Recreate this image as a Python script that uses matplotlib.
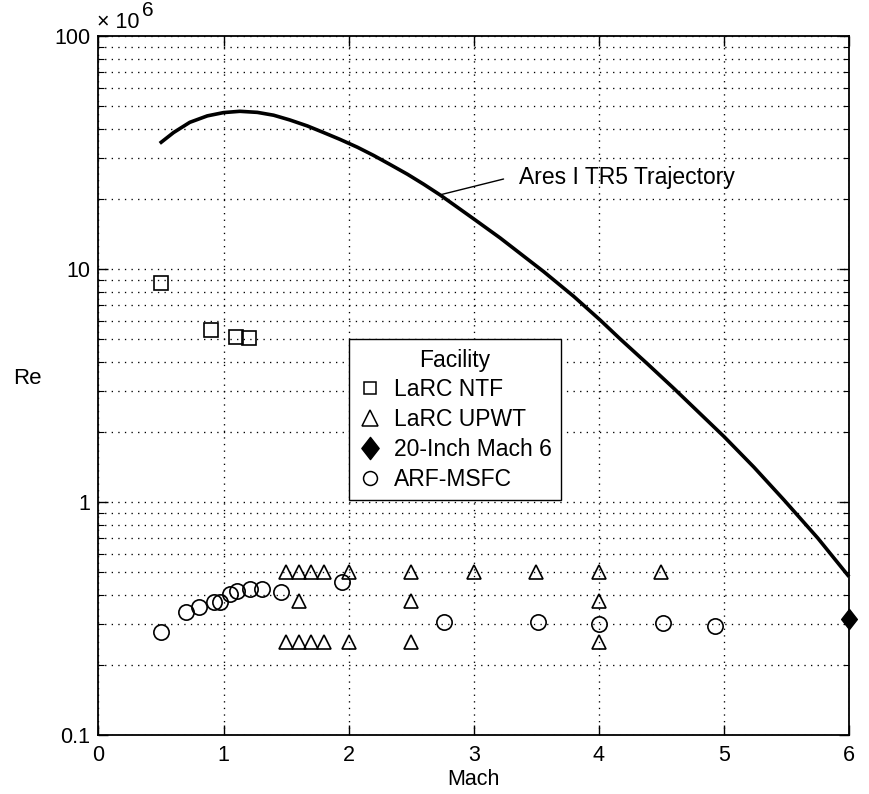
import matplotlib
matplotlib.use("Agg")
import matplotlib.pyplot as plt
from matplotlib.lines import Line2D
from matplotlib.path import Path
import matplotlib.ticker as mticker

plt.rcParams['font.family'] = ['Liberation Sans', 'DejaVu Sans']

# ---------------- data (Re in millions) ----------------
traj_mach = [0.49, 0.60, 0.73, 0.87, 1.00, 1.13, 1.27, 1.40, 1.53, 1.67, 1.80, 1.93,
             2.07, 2.20, 2.33, 2.47, 2.60, 2.73, 3.00, 3.21, 3.56, 3.80, 4.01, 4.17,
             4.39, 4.60, 4.79, 5.00, 5.24, 5.48, 5.75, 6.00]
traj_re = [34.6, 38.5, 42.6, 45.4, 46.9, 47.5, 47.0, 45.7, 43.6, 41.1, 38.5, 36.0,
           33.3, 30.7, 28.1, 25.5, 23.1, 20.8, 16.4, 13.6, 9.73, 7.62, 6.04, 5.01,
           3.91, 3.07, 2.45, 1.91, 1.41, 1.02, 0.70, 0.478]

ntf_mach = [0.5, 0.9, 1.1, 1.2]
ntf_re = [8.7, 5.45, 5.1, 5.05]

upwt_mach = [1.5, 1.6, 1.7, 1.8, 2.0, 2.5, 3.0, 3.5, 4.0, 4.5,
             1.6, 2.5, 4.0,
             1.5, 1.6, 1.7, 1.8, 2.0, 2.5, 4.0]
upwt_re = [0.5, 0.5, 0.5, 0.5, 0.5, 0.5, 0.5, 0.5, 0.5, 0.5,
           0.375, 0.375, 0.375,
           0.25, 0.25, 0.25, 0.25, 0.25, 0.25, 0.25]

mach6_mach = [6.0]
mach6_re = [0.315]

arf_mach = [0.5, 0.7, 0.8, 0.92, 0.97, 1.05, 1.11, 1.21, 1.31, 1.46, 1.95,
            2.76, 3.51, 4.0, 4.51, 4.93]
arf_re = [0.277, 0.338, 0.355, 0.373, 0.373, 0.403, 0.416, 0.423, 0.423, 0.412, 0.452,
          0.305, 0.305, 0.300, 0.303, 0.294]

x_ticks = [0, 1, 2, 3, 4, 5, 6]
y_ticks = [0.1, 1, 10, 100]
y_tick_labels = ['0.1', '1', '10', '100']

facility_labels = ['LaRC NTF', 'LaRC UPWT', '20-Inch Mach 6', 'ARF-MSFC']
curve_label = 'Ares I TR5 Trajectory'

# ---------------- figure ----------------
fig = plt.figure(figsize=(8.7, 7.94), dpi=100)
ax = fig.add_axes([0.1132, 0.0743, 0.8627, 0.8804])
ax.set_yscale('log')
ax.set_xlim(0, 6)
ax.set_ylim(0.1, 100)

dots = (0, (1, 4))
ax.grid(True, which='major', axis='both', color='k', linestyle=dots, linewidth=0.95)
ax.grid(True, which='minor', axis='y', color='k', linestyle=dots, linewidth=0.95)
ax.set_axisbelow(True)

# thin diamond marker like MATLAB's
diamond = Path([(0, 1), (0.78, 0), (0, -1), (-0.78, 0), (0, 1)],
               [Path.MOVETO, Path.LINETO, Path.LINETO, Path.LINETO, Path.CLOSEPOLY])

ax.plot(traj_mach, traj_re, color='k', linewidth=2.6, solid_capstyle='butt',
        solid_joinstyle='round', zorder=3, clip_on=False)
ax.plot(ntf_mach, ntf_re, linestyle='none', marker='s', markersize=9.5,
        markerfacecolor='none', markeredgecolor='k', markeredgewidth=1.2, zorder=4)
ax.plot(upwt_mach, upwt_re, linestyle='none', marker='^', markersize=10,
        markerfacecolor='none', markeredgecolor='k', markeredgewidth=1.2, zorder=4)
ax.plot(mach6_mach, mach6_re, linestyle='none', marker=diamond, markersize=14.5,
        markerfacecolor='k', markeredgecolor='k', markeredgewidth=1.0, zorder=5, clip_on=False)
ax.plot(arf_mach, arf_re, linestyle='none', marker='o', markersize=11,
        markerfacecolor='none', markeredgecolor='k', markeredgewidth=1.2, zorder=4)

# ticks
ax.set_xticks(x_ticks)
ax.set_xticklabels([str(t) for t in x_ticks])
ax.yaxis.set_major_locator(mticker.FixedLocator(y_ticks))
ax.yaxis.set_major_formatter(mticker.FixedFormatter(y_tick_labels))
ax.yaxis.set_minor_locator(mticker.LogLocator(base=10, subs=range(2, 10)))
ax.yaxis.set_minor_formatter(mticker.NullFormatter())
ax.tick_params(which='major', direction='in', length=7, width=1.0, top=True, right=True,
               labelsize=15.5, color='k')
ax.tick_params(axis='x', which='major', pad=7)
ax.tick_params(axis='y', which='major', pad=6)
ax.tick_params(which='minor', direction='in', length=4, width=0.8, top=False, right=True)
for s in ax.spines.values():
    s.set_linewidth(1.3)

ax.set_xlabel('Mach', fontsize=15.5, labelpad=2)
fig.text(27 / 870, 1 - 378 / 794, 'Re', fontsize=16, ha='center', va='center')

# exponent label
fig.text(97 / 870, 1 - 28 / 794, '× 10', fontsize=15.5, ha='left', va='baseline')
fig.text(142 / 870, 1 - 16 / 794, '6', fontsize=15, ha='left', va='baseline')

# annotation for trajectory
ax.annotate(curve_label, xy=(2.73, 20.8), xytext=(3.36, 24.6),
            fontsize=16.5, ha='left', va='center',
            arrowprops=dict(arrowstyle='-', color='k', linewidth=1.0,
                            connectionstyle='angle,angleA=0,angleB=14,rad=0',
                            relpos=(0, 0.5), shrinkA=9, shrinkB=0))

# legend
handles = [
    Line2D([], [], linestyle='none', marker='s', markersize=9, markerfacecolor='none',
           markeredgecolor='k', markeredgewidth=1.1),
    Line2D([], [], linestyle='none', marker='^', markersize=11, markerfacecolor='none',
           markeredgecolor='k', markeredgewidth=1.1),
    Line2D([], [], linestyle='none', marker=diamond, markersize=16, markerfacecolor='k',
           markeredgecolor='k'),
    Line2D([], [], linestyle='none', marker='o', markersize=10, markerfacecolor='none',
           markeredgecolor='k', markeredgewidth=1.1),
]
leg = ax.legend(handles, facility_labels, title='Facility', loc='upper left',
                bbox_to_anchor=(0.334, 0.566), borderaxespad=0, fontsize=16.5,
                title_fontsize=16.5, fancybox=False, framealpha=1, edgecolor='k',
                handlelength=1.0, handletextpad=0.55, labelspacing=0.3, borderpad=0.4)
leg.get_frame().set_linewidth(1.0)

fig.savefig('out.png', dpi=100, facecolor='white')
